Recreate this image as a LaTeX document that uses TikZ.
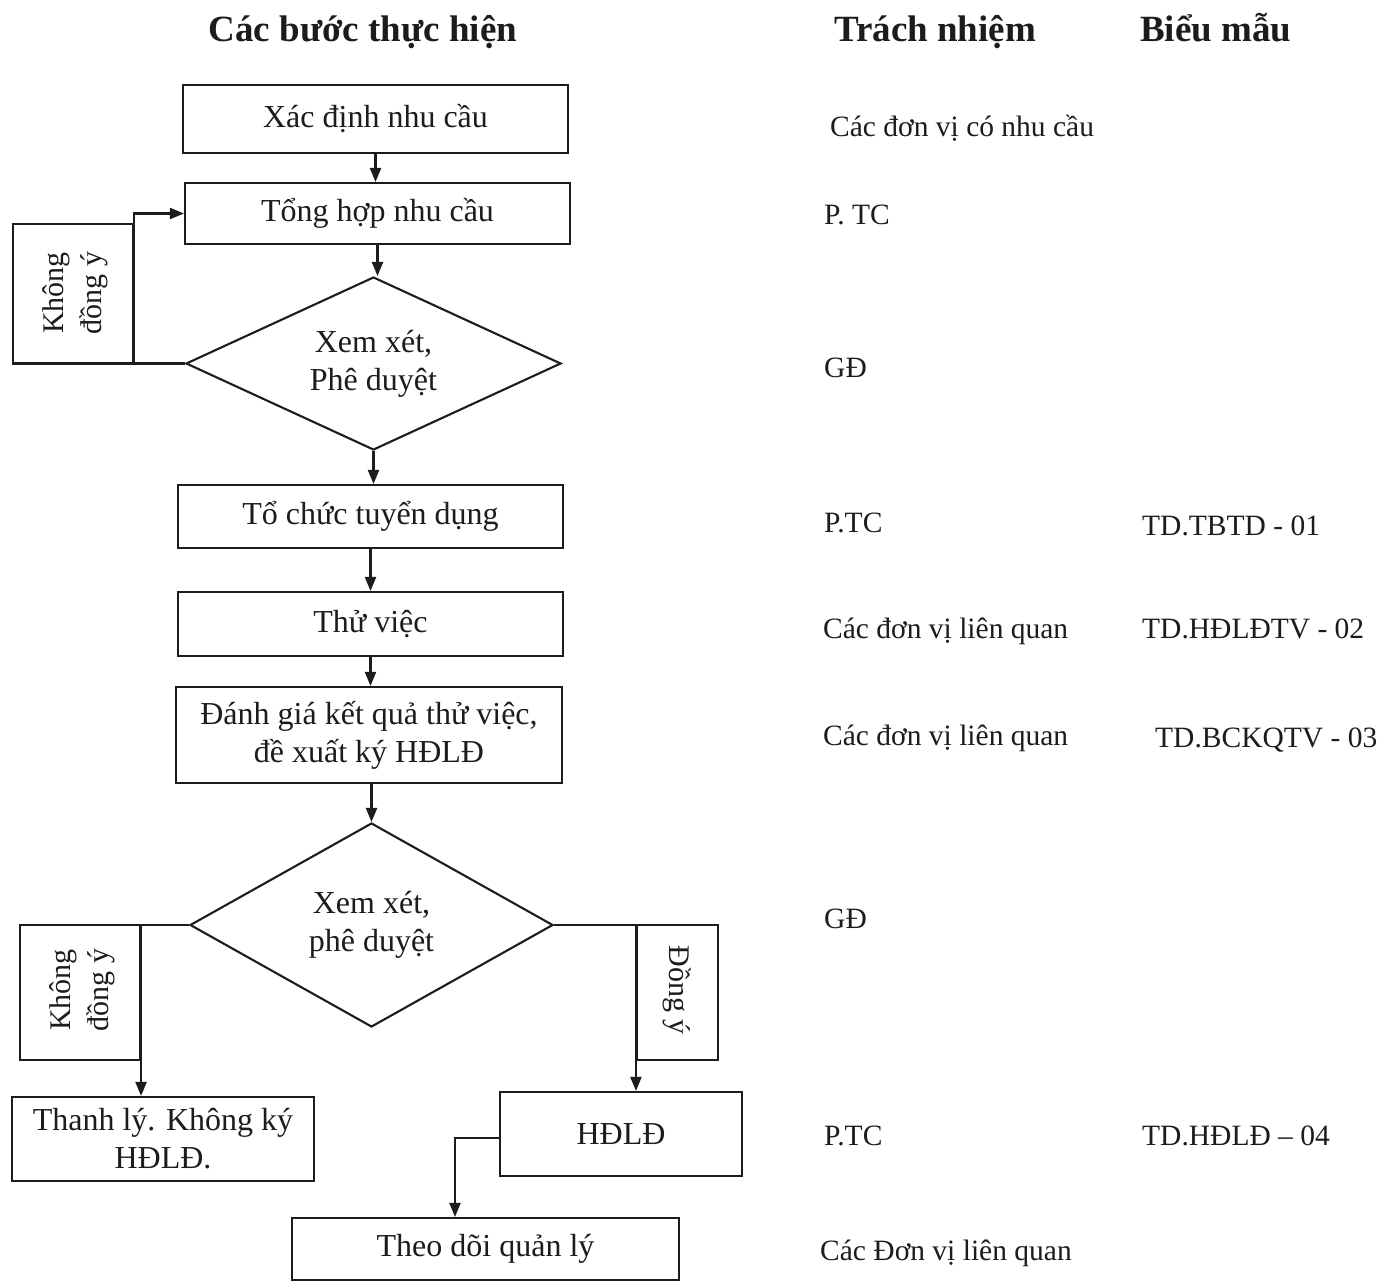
\documentclass[tikz,border=0pt]{standalone}
\usepackage{fontspec}
\setmainfont{Liberation Serif}
\usetikzlibrary{arrows.meta,shapes.geometric}
\definecolor{ink}{HTML}{1C1C1C}
\begin{document}
\begin{tikzpicture}[x=1pt,y=-1pt,
  boxtext/.style={font=\fontsize{32}{38}\selectfont},
  stepbox/.style={draw=ink, line width=2.1pt, rectangle, inner sep=0pt, boxtext, align=center, text=ink},
  decision/.style={draw=ink, line width=2.1pt, diamond, inner sep=0pt, boxtext, align=center, text=ink},
  labelbox/.style={draw=ink, line width=2.1pt, rectangle, inner sep=0pt},
  side/.style={font=\fontsize{30}{38}\selectfont, align=center, text=ink, inner sep=0pt},
  head/.style={font=\bfseries\fontsize{37}{42}\selectfont, text=ink, inner sep=0pt},
  info/.style={font=\fontsize{29.5}{34}\selectfont, text=ink, anchor=base west, inner sep=0pt},
  flow/.style={draw=ink, line width=2.1pt, -{Triangle[length=14pt,width=11pt]}},
  link/.style={draw=ink, line width=2.1pt}
]
\fill[white] (0,0) rectangle (1391,1281);
\useasboundingbox (0,0) rectangle (1391,1281);

% headings
\node[head, anchor=base] (h1) at (363,42) {Các bước thực hiện};
\node[head, anchor=base west] (h2) at (834,42) {Trách nhiệm};
\node[head, anchor=base west] (h3) at (1140,42) {Biểu mẫu};

% flow boxes
\node[stepbox, minimum width=385, minimum height=68] (b1) at (375.5,119) {Xác định nhu cầu};
\node[stepbox, minimum width=385, minimum height=61] (b2) at (377.5,213.5) {Tổng hợp nhu cầu};
\node[decision, aspect=2.17, minimum width=375, minimum height=173] (d1) at (373.5,363.5) {Xem xét,\\Phê duyệt};
\node[stepbox, minimum width=385, minimum height=63] (b3) at (370.5,516.5) {Tổ chức tuyển dụng};
\node[stepbox, minimum width=385, minimum height=64] (b4) at (370.5,624) {Thử việc};
\node[stepbox, minimum width=386, minimum height=96] (b5) at (369,735) {Đánh giá kết quả thử việc,\\đề xuất ký HĐLĐ};
\node[decision, aspect=1.78, minimum width=363, minimum height=204] (d2) at (371.5,925) {Xem xét,\\phê duyệt};
\node[stepbox, minimum width=302, minimum height=84] (b6) at (163,1139) {Thanh lý. Không ký\\HĐLĐ.};
\node[stepbox, minimum width=242, minimum height=84] (b7) at (621,1134) {HĐLĐ};
\node[stepbox, minimum width=387, minimum height=62] (b8) at (485.5,1249) {Theo dõi quản lý};

% branch label boxes
\node[labelbox, minimum width=120, minimum height=139.5] (n1) at (73,293.75) {};
\node[side, rotate=90] (n1t) at (75,293) {Không\\đồng ý};
\node[labelbox, minimum width=120, minimum height=135] (n2) at (80,992.5) {};
\node[side, rotate=90] (n2t) at (82,990) {Không\\đồng ý};
\node[labelbox, minimum width=81, minimum height=135] (n3) at (677.5,992.5) {};
\node[side, rotate=-90] (n3t) at (677,990) {Đồng ý};

\coordinate (k) at (455,1138);

% connectors
\draw[flow] (b1.south) -- (b1.south |- b2.north);
\draw[flow] (b2.south) -- (b2.south |- d1.north);
\draw[flow] (d1.south) -- (d1.south |- b3.north);
\draw[flow] (b3.south) -- (b3.south |- b4.north);
\draw[flow] (b4.south) -- (b4.south |- b5.north);
\draw[flow] (d2.north |- b5.south) -- (d2.north);
\draw[flow] (d1.west) -- (d1.west -| n1.east) -- (b2.west -| n1.east) -- (b2.west);
\draw[flow] (d2.west) -- (d2.west -| n2.east) -- (n2.east |- b6.north);
\draw[flow] (d2.east) -- (d2.east -| n3.west) -- (n3.west |- b7.north);
\draw[flow] (b7.west |- k) -- (k) -- (k |- b8.north);

% responsibility and forms
\node[info] (r1) at (830,137) {Các đơn vị có nhu cầu};
\node[info] (r2) at (824,225) {P. TC};
\node[info] (r3) at (824,377) {GĐ};
\node[info] (r4) at (824,532) {P.TC};
\node[info] (f1) at (1142,535) {TD.TBTD - 01};
\node[info] (r5) at (823,638) {Các đơn vị liên quan};
\node[info] (f2) at (1142,638) {TD.HĐLĐTV - 02};
\node[info] (r6) at (823,745) {Các đơn vị liên quan};
\node[info] (f3) at (1155,747) {TD.BCKQTV - 03};
\node[info] (r7) at (824,928) {GĐ};
\node[info] (r8) at (824,1145) {P.TC};
\node[info] (f4) at (1142,1145) {TD.HĐLĐ – 04};
\node[info] (r9) at (820,1260) {Các Đơn vị liên quan};
\end{tikzpicture}
\end{document}
